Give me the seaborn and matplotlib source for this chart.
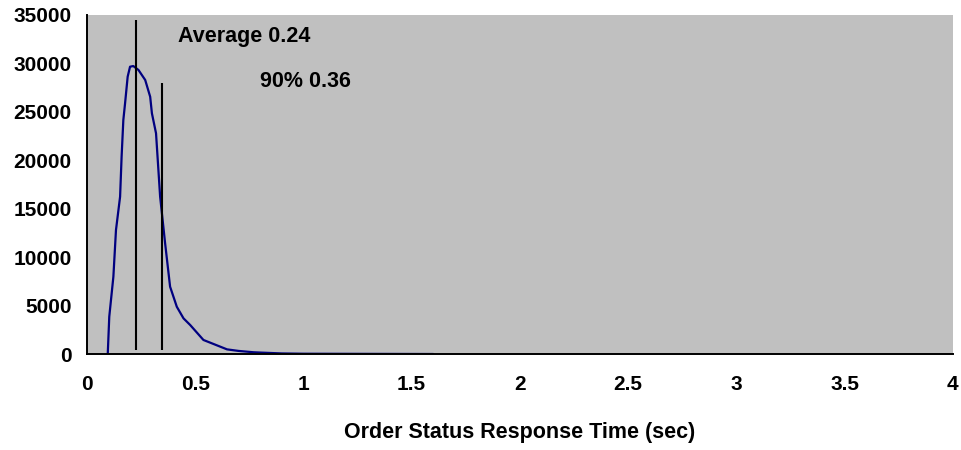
import numpy as np
import pandas as pd
import matplotlib
matplotlib.use("Agg")
import matplotlib.pyplot as plt
import seaborn as sns

# response time distribution
resp_time = [0.096, 0.103, 0.122, 0.134, 0.153, 0.160, 0.168, 0.176, 0.188, 0.199,
             0.214, 0.238, 0.269, 0.292, 0.300, 0.319, 0.338, 0.361, 0.384, 0.415,
             0.446, 0.477, 0.538, 0.647, 0.700, 0.770, 0.800, 0.900, 1.000, 1.200,
             1.400, 1.600]
count = [0, 3850, 7980, 12800, 16240, 20370, 24160, 25880, 28630, 29660,
         29730, 29320, 28290, 26560, 24850, 22790, 16240, 11430, 6950, 4880,
         3680, 2990, 1450, 480, 320, 180, 150, 60, 30, 20,
         10, 0]

avg_x, avg_top = 0.225, 34500
p90_x, p90_top = 0.345, 28000
line_bottom = 400

df = pd.DataFrame({"t": resp_time, "n": count})

sns.set_style("white")
plt.rcParams["font.family"] = ["Liberation Sans", "DejaVu Sans"]
plt.rcParams["font.weight"] = "bold"
plt.rcParams["text.color"] = "black"
plt.rcParams["xtick.color"] = "black"
plt.rcParams["ytick.color"] = "black"
plt.rcParams["axes.labelcolor"] = "black"

fig = plt.figure(figsize=(9.61, 4.5), dpi=100)
ax = fig.add_axes([0.0905, 0.2133, 0.901, 0.7534])
ax.set_facecolor("#c0c0c0")

sns.lineplot(data=df, x="t", y="n", color="#000080", linewidth=1.6, ax=ax)

ax.vlines([avg_x], line_bottom, avg_top, color="black", linewidth=1.5)
ax.vlines([p90_x], line_bottom, p90_top, color="black", linewidth=1.5)
ax.text(0.421, 32800, "Average 0.24", fontsize=15.5, fontweight="bold", va="center")
ax.text(0.80, 28100, "90% 0.36", fontsize=15.5, fontweight="bold", va="center")

ax.set_xlim(0, 4)
ax.set_ylim(0, 35000)
ax.set_xticks(np.arange(0, 4.01, 0.5))
ax.set_xticklabels(["0", "0.5", "1", "1.5", "2", "2.5", "3", "3.5", "4"])
ax.set_yticks(np.arange(0, 35001, 5000))
ax.tick_params(axis="both", direction="out", length=5, width=1.4, color="black",
               labelsize=15)
ax.tick_params(axis="x", pad=10)
ax.tick_params(axis="y", pad=6)
for lbl in ax.get_xticklabels() + ax.get_yticklabels():
    lbl.set_fontweight("bold")

for s in ["top", "right"]:
    ax.spines[s].set_visible(False)
for s in ["left", "bottom"]:
    ax.spines[s].set_color("black")
    ax.spines[s].set_linewidth(1.4)

ax.set_ylabel("")
ax.set_xlabel("Order Status Response Time (sec)", fontsize=15.5, fontweight="bold", labelpad=20)

fig.savefig("out.png", dpi=100)
